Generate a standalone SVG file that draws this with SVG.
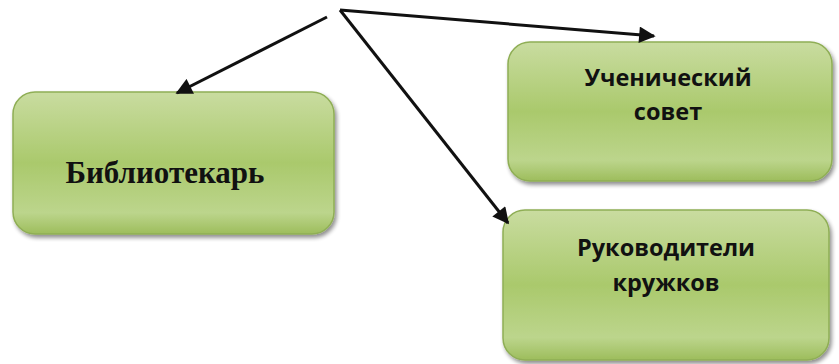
<svg xmlns="http://www.w3.org/2000/svg" width="839" height="364" viewBox="0 0 839 364">
<defs>
<linearGradient id="g" x1="0" y1="0" x2="0" y2="1">
<stop offset="0" stop-color="#c9dca0"/>
<stop offset="0.5" stop-color="#aac96c"/>
<stop offset="0.85" stop-color="#bcd58c"/>
<stop offset="1" stop-color="#9dbd5c"/>
</linearGradient>
<filter id="sh" x="-10%" y="-10%" width="125%" height="130%">
<feGaussianBlur in="SourceAlpha" stdDeviation="2"/>
<feOffset dx="2" dy="3"/>
<feComponentTransfer><feFuncA type="linear" slope="0.45"/></feComponentTransfer>
<feMerge><feMergeNode/><feMergeNode in="SourceGraphic"/></feMerge>
</filter>
<marker id="ah" viewBox="0 0 10 10" refX="9" refY="5" markerWidth="6" markerHeight="5.5" orient="auto" markerUnits="strokeWidth">
<path d="M0,0 L10,5 L0,10 z" fill="#111"/>
</marker>
</defs>
<style>
.box{fill:url(#g);stroke:#8fae55;stroke-width:1.5;filter:url(#sh)}
.sans{font-family:"Open Sans","Liberation Sans",sans-serif;font-weight:bold;font-size:23.5px;fill:#111;text-anchor:middle}
.serif{font-family:"Liberation Serif","Times New Roman",serif;font-weight:bold;font-size:31px;fill:#111;text-anchor:middle}
.conn{stroke:#111;stroke-width:3;fill:none;marker-end:url(#ah)}
</style>
<rect width="839" height="364" fill="#fff"/>
<g id="n1">
<rect class="box" x="13" y="92" width="321" height="142" rx="22"/>
<text class="serif" x="165" y="183">Библиотекарь</text>
</g>
<g id="n2">
<rect class="box" x="508" y="42" width="324" height="139" rx="22"/>
<text class="sans" x="668" y="86">Ученический</text>
<text class="sans" x="668" y="120">совет</text>
</g>
<g id="n3">
<rect class="box" x="503" y="210" width="326" height="150" rx="22"/>
<text class="sans" x="666" y="256">Руководители</text>
<text class="sans" x="666" y="291">кружков</text>
</g>
<g id="connectors">
<line class="conn" x1="327" y1="17" x2="177" y2="93"/>
<line class="conn" x1="340" y1="10" x2="654" y2="36"/>
<line class="conn" x1="340" y1="10" x2="508" y2="223"/>
</g>
</svg>
